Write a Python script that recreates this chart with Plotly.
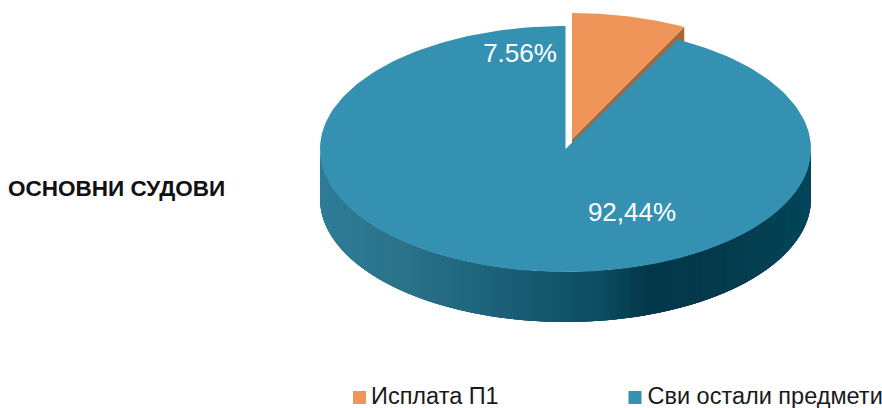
import numpy as np
import plotly.graph_objects as go

categories = ["Исплата П1", "Сви остали предмети"]
values = [7.56, 92.44]
value_labels = ["7.56%", "92,44%"]
chart_label = "ОСНОВНИ СУДОВИ"

ORANGE, ORANGE_SIDE, BLUE = "#f0955a", "#a8673a", "#3591b1"
FONT = "Liberation Sans, Arial, sans-serif"

# projection of the pie disc onto the canvas (pixels)
BLUE_C, BLUE_R = (565.5, 149.0), (245.5, 123.0)
ORANGE_C, ORANGE_R = (572.0, 139.0), (245.5, 126.0)
DEPTH = 50.0

# side shading: canvas x -> colour
shade_x = [320, 400, 500, 600, 645, 720, 811]
shade_rgb = [(46, 124, 152), (42, 115, 138), (27, 96, 119), (12, 76, 97), (2, 56, 74), (4, 58, 76), (3, 70, 90)]


def arc(c, r, a0, a1, n=120):
    a = np.radians(np.linspace(a0, a1, n))
    return c[0] + r[0] * np.sin(a), c[1] - r[1] * np.cos(a)


def wedge(c, r, a0, a1):
    x, y = arc(c, r, a0, a1, 240)
    return [c[0], *x, c[0]], [c[1], *y, c[1]]


def shade(x):
    return "rgb(%d,%d,%d)" % tuple(int(round(np.interp(x, shade_x, [s[i] for s in shade_rgb]))) for i in range(3))


split = values[0] / sum(values) * 360
fig = go.Figure()


def poly(x, y, color, name=None):
    fig.add_trace(go.Scatter(x=list(x), y=list(y), mode="lines", fill="toself", fillcolor=color,
                             line=dict(width=0), showlegend=False,
                             name=name, hoverinfo="name" if name else "skip"))


# blue rim: overlapping strips painted left to right, so no seams show
edges = np.linspace(270, 90, 181)
for a0 in edges[:-1]:
    a1 = max(a0 - 4, 90)
    x, y = arc(BLUE_C, BLUE_R, a0, a1, 6)
    poly([*x, *x[::-1]], [*y, *(y[::-1] + DEPTH)], shade(x[0]))

# orange cut face, then orange top
ex, ey = arc(ORANGE_C, ORANGE_R, split, split, 1)
poly([ORANGE_C[0], ex[0], ex[0], ORANGE_C[0]],
     [ORANGE_C[1], ey[0], ey[0] + DEPTH, ORANGE_C[1] + DEPTH], ORANGE_SIDE)
poly(*wedge(ORANGE_C, ORANGE_R, 0, split), ORANGE, categories[0])

# blue top
poly(*wedge(BLUE_C, BLUE_R, split, 360), BLUE, categories[1])

# value labels
fig.add_trace(go.Scatter(x=[520, 632], y=[55, 214], mode="text", text=value_labels,
                         textposition="middle center", showlegend=False, hoverinfo="skip",
                         textfont=dict(family=FONT, size=26, color="white")))

# key
fig.add_trace(go.Scatter(x=[359.5, 635], y=[397.5, 397.5], mode="markers", showlegend=False, hoverinfo="skip",
                         marker=dict(symbol="square", size=13, color=[ORANGE, BLUE])))
fig.add_trace(go.Scatter(x=[371, 647.5], y=[398, 398], mode="text", text=categories,
                         textposition="middle right", showlegend=False, hoverinfo="skip",
                         textfont=dict(family=FONT, size=23.5, color="#1a1a1a")))

fig.add_annotation(x=6, y=188, xanchor="left", yanchor="middle", showarrow=False, text=f"<b>{chart_label}</b>",
                   font=dict(family=FONT, size=22.5, color="#111111"))

fig.update_layout(width=882, height=408, margin=dict(l=0, r=0, t=0, b=0),
                  paper_bgcolor="white", plot_bgcolor="white", showlegend=False,
                  xaxis=dict(range=[0, 882], visible=False, fixedrange=True),
                  yaxis=dict(range=[408, 0], visible=False, fixedrange=True))
fig.write_html("out.html", config=dict(displayModeBar=False),
               default_width="882px", default_height="408px",
               post_script="document.body.style.margin='0';document.documentElement.style.overflow='hidden';")
